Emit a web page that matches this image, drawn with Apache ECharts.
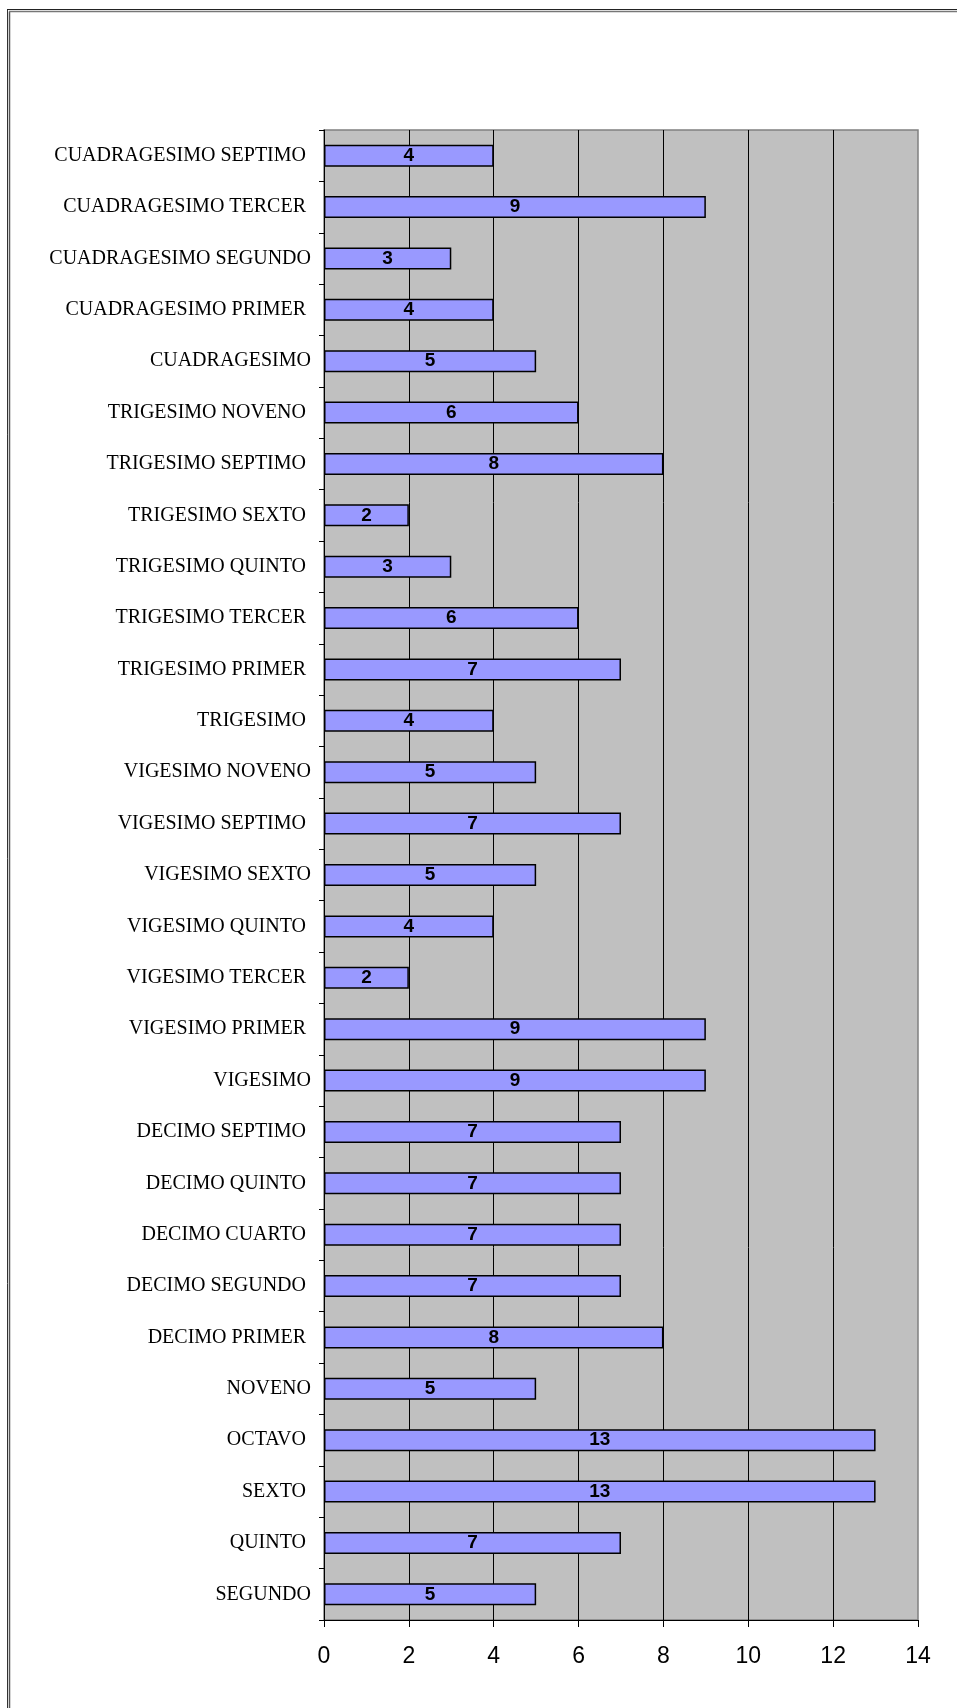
<!DOCTYPE html>
<html>
<head>
<meta charset="utf-8">
<script src="https://cdn.jsdelivr.net/npm/echarts@6/dist/echarts.min.js"></script>
<style>
html,body{margin:0;padding:0;background:#fff;}
#chart{width:957px;height:1708px;}
</style>
</head>
<body>
<div id="chart"></div>
<script>
// categories top to bottom
const categories = [
  "CUADRAGESIMO SEPTIMO ", "CUADRAGESIMO TERCER ", "CUADRAGESIMO SEGUNDO", "CUADRAGESIMO PRIMER ",
  "CUADRAGESIMO", "TRIGESIMO NOVENO ", "TRIGESIMO SEPTIMO ", "TRIGESIMO SEXTO ",
  "TRIGESIMO QUINTO ", "TRIGESIMO TERCER ", "TRIGESIMO PRIMER ", "TRIGESIMO ",
  "VIGESIMO NOVENO", "VIGESIMO SEPTIMO ", "VIGESIMO SEXTO", "VIGESIMO QUINTO ",
  "VIGESIMO TERCER ", "VIGESIMO PRIMER ", "VIGESIMO", "DECIMO SEPTIMO ",
  "DECIMO QUINTO ", "DECIMO CUARTO ", "DECIMO SEGUNDO ", "DECIMO PRIMER ",
  "NOVENO", "OCTAVO ", "SEXTO ", "QUINTO ", "SEGUNDO"
];
const values = [
  4, 9, 3, 4,
  5, 6, 8, 2,
  3, 6, 7, 4,
  5, 7, 5, 4,
  2, 9, 9, 7,
  7, 7, 7, 8,
  5, 13, 13, 7, 5
];
const xMin = 0, xMax = 14, xInterval = 2;

const chart = echarts.init(document.getElementById('chart'), null, {renderer: 'canvas'});
chart.setOption({
  backgroundColor: '#ffffff',
  animation: false,
  graphic: [
    {type: 'line', shape: {x1: 7.5, y1: 9.5, x2: 7.5, y2: 1708}, style: {stroke: '#333', lineWidth: 1}},
    {type: 'line', shape: {x1: 9.5, y1: 11.5, x2: 9.5, y2: 1708}, style: {stroke: '#555', lineWidth: 1.5}},
    {type: 'line', shape: {x1: 7, y1: 9.5, x2: 957, y2: 9.5}, style: {stroke: '#222', lineWidth: 1}},
    {type: 'line', shape: {x1: 9, y1: 11.5, x2: 957, y2: 11.5}, style: {stroke: '#777', lineWidth: 1.5}}
  ],
  grid: {
    left: 324, right: 39, top: 130, height: 1490,
    show: true, backgroundColor: '#C0C0C0', borderColor: '#808080', borderWidth: 1.5,
    containLabel: false
  },
  xAxis: {
    type: 'value', min: xMin, max: xMax, interval: xInterval,
    axisLine: {show: true, lineStyle: {color: '#000', width: 1}},
    axisTick: {show: true, length: 7, lineStyle: {color: '#000'}},
    axisLabel: {fontFamily: 'Liberation Sans, Arial, sans-serif', fontSize: 23, color: '#000', margin: 25},
    splitLine: {show: true, showMaxLine: false, lineStyle: {color: '#000', width: 1}}
  },
  yAxis: {
    type: 'category', data: categories, inverse: true,
    axisLine: {show: true, lineStyle: {color: '#000', width: 1}},
    axisTick: {show: true, length: 5, lineStyle: {color: '#000'}},
    axisLabel: {fontFamily: 'Liberation Serif, Times New Roman, serif', fontSize: 20, color: '#000', margin: 13},
    splitLine: {show: false}
  },
  series: [{
    type: 'bar',
    data: values,
    barWidth: 22,
    itemStyle: {color: '#9999FF', borderColor: '#000', borderWidth: 1.5},
    label: {
      show: true, position: 'inside', color: '#000',
      fontFamily: 'Liberation Sans, Arial, sans-serif', fontWeight: 'bold', fontSize: 19
    }
  }]
});
</script>
</body>
</html>
